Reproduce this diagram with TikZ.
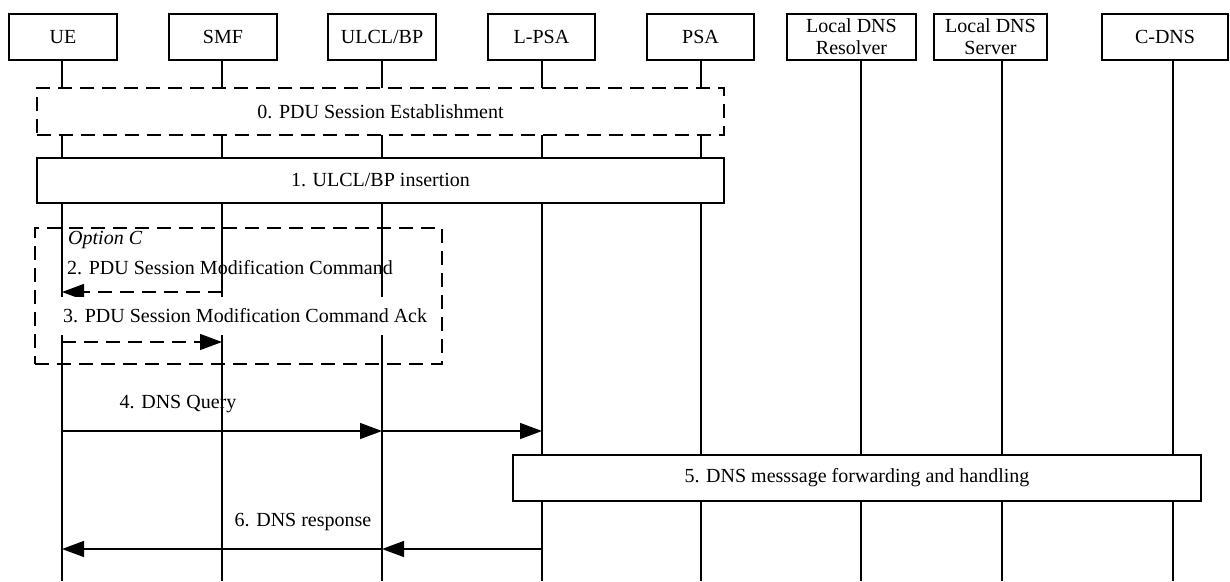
\documentclass[tikz,border=0pt]{standalone}
\usepackage{fontspec}
\setmainfont{Liberation Serif}
\usetikzlibrary{arrows.meta}
\begin{document}
\begin{tikzpicture}[x=1pt,y=-1pt,
  every node/.style={font=\fontsize{20}{23}\selectfont, inner sep=0pt},
  hdr/.style={draw, line width=1.4pt, fill=white, minimum height=46pt, align=center},
  lifeline/.style={line width=1.4pt},
  stepbox/.style={draw, line width=1.4pt, fill=white},
  dbox/.style={draw, line width=1.3pt, dash pattern=on 14pt off 8pt},
  msg/.style={line width=1.4pt, -{Triangle[length=22pt,width=16pt]}},
  dmsg/.style={msg, dash pattern=on 14pt off 8pt},
]
\useasboundingbox (0,0) rectangle (1230,581);
% header boxes
\node[hdr, minimum width=108pt] (ue)  at (63,37) {UE};
\node[hdr, minimum width=108pt] (smf) at (223,37) {SMF};
\node[hdr, minimum width=108pt] (ulcl) at (382,37) {ULCL/BP};
\node[hdr, minimum width=107pt] (lpsa) at (541.5,37) {L-PSA};
\node[hdr, minimum width=107pt] (psa) at (700.5,37) {PSA};
\node[hdr, minimum width=129pt] (ldr) at (851.5,37) {Local DNS\\[-1pt]Resolver};
\node[hdr, minimum width=113pt] (lds) at (990.5,37) {Local DNS\\[-1pt]Server};
\node[hdr, minimum width=126pt] (cdns) at (1165,37) {C-DNS};
% lifeline ends
\foreach \n/\x in {1/62,2/222,3/382,4/542,5/701,6/861,7/1002,8/1173}{
  \coordinate (t\n) at (\x,60);
  \coordinate (b\n) at (\x,581);
}
\foreach \n in {1,...,8}{ \draw[lifeline] (t\n) -- (b\n); }
% step 0 and 1
\node[dbox, fill=white, minimum width=687pt, minimum height=47pt] (s0) at (380.5,111.5) {0. PDU Session Establishment};
\node[stepbox, minimum width=687pt, minimum height=45pt] (s1) at (380.5,180.5) {1. ULCL/BP insertion};
% option C frame
\node[dbox, minimum width=407pt, minimum height=136pt] (optc) at (238.5,296) {};
\node[anchor=west] (optclabel) at (68,240) {\textit{Option C}};
% step 2
\coordinate (m2s) at (222,292);
\coordinate (m2e) at (62,292);
\node[anchor=west] (l2) at (67,268) {2. PDU Session Modification Command};
\draw[dmsg] (m2s) -- (m2e);
% step 3
\node[anchor=west, fill=white, inner sep=2pt, minimum height=38pt] (l3) at (61,316) {3. PDU Session Modification Command Ack};
\coordinate (m3s) at (62,342);
\coordinate (m3e) at (222,342);
\draw[dmsg] (m3s) -- (m3e);
% step 4
\coordinate (m4a) at (62,431);
\coordinate (m4b) at (382,431);
\coordinate (m4c) at (542,431);
\draw[msg] (m4a) -- (m4b);
\draw[msg] (m4b) -- (m4c);
\node (l4) at (178,404) {4. DNS Query};
% step 5
\node[stepbox, minimum width=688pt, minimum height=46pt] (s5) at (857,478) {5. DNS messsage forwarding and handling};
% step 6
\coordinate (m6a) at (542,549);
\coordinate (m6b) at (382,549);
\coordinate (m6c) at (62,549);
\draw[msg] (m6a) -- (m6b);
\draw[msg] (m6b) -- (m6c);
\node (l6) at (303,522) {6. DNS response};
\end{tikzpicture}
\end{document}
